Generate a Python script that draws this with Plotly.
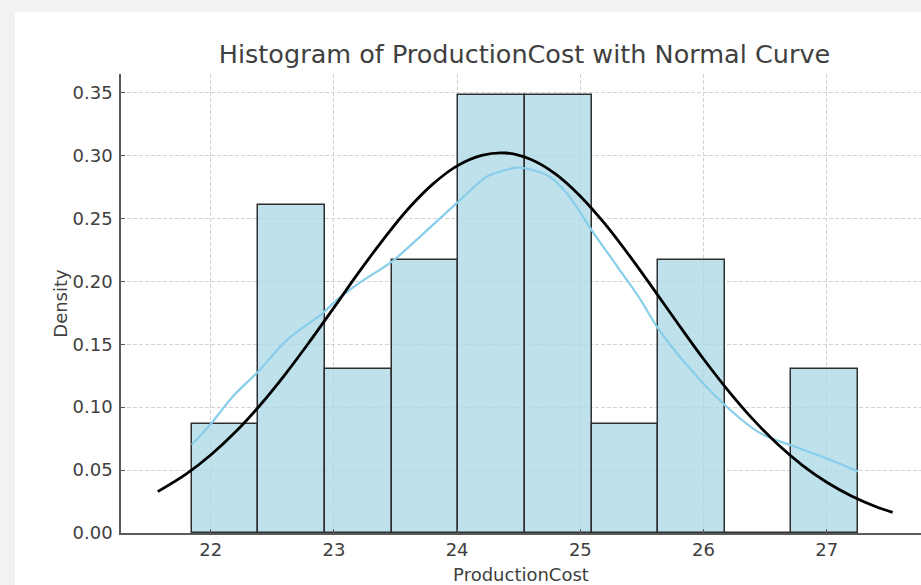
import plotly.graph_objects as go

# ---- data ----
bin_edges = [21.846, 22.387, 22.928, 23.468, 24.009, 24.550, 25.091, 25.632, 26.172, 26.713, 27.254]
densities = [0.087, 0.261, 0.130, 0.217, 0.348, 0.348, 0.087, 0.217, 0.0, 0.130]

kde_x = [21.846, 22.0, 22.18, 22.386, 22.62, 22.91, 23.02, 23.21, 23.47, 23.70, 24.01, 24.24,
         24.35, 24.48, 24.55, 24.75, 24.89, 25.09, 25.30, 25.48, 25.63, 25.84, 26.17, 26.46,
         26.72, 26.99, 27.254]
kde_y = [0.0701, 0.0866, 0.1085, 0.1284, 0.1535, 0.1747, 0.1850, 0.1990, 0.2157, 0.2356, 0.2634, 0.2832,
         0.2872, 0.2904, 0.2899, 0.2832, 0.2700, 0.2410, 0.2118, 0.1867, 0.1628, 0.1363, 0.1019, 0.0794,
         0.0693, 0.0596, 0.0489]

norm_x = [21.57, 21.8, 22.0, 22.2, 22.4, 22.6, 22.8, 23.0, 23.2, 23.4, 23.6, 23.8, 24.0, 24.2, 24.4,
          24.6, 24.8, 25.0, 25.2, 25.4, 25.6, 25.8, 26.0, 26.2, 26.4, 26.6, 26.8, 27.0, 27.2, 27.4, 27.535]
norm_y = [0.0329, 0.0468, 0.0620, 0.0802, 0.1015, 0.1255, 0.1517, 0.1791, 0.2069, 0.2332, 0.2573, 0.2771,
          0.2918, 0.3002, 0.3020, 0.2968, 0.2852, 0.2677, 0.2456, 0.2202, 0.1930, 0.1653, 0.1383, 0.1132,
          0.0905, 0.0707, 0.0540, 0.0403, 0.0294, 0.0209, 0.0164]

x_ticks = [22, 23, 24, 25, 26, 27]
y_ticks = [0.00, 0.05, 0.10, 0.15, 0.20, 0.25, 0.30, 0.35]

centers = [(a + b) / 2 for a, b in zip(bin_edges[:-1], bin_edges[1:])]
widths = [b - a for a, b in zip(bin_edges[:-1], bin_edges[1:])]

FONT = "DejaVu Sans"
TXT = "#404040"

fig = go.Figure()
fig.add_trace(go.Bar(
    x=centers, y=densities, width=widths,
    marker=dict(color="rgba(173,216,230,0.78)", line=dict(color="#2e2e2e", width=1.5)),
    showlegend=False, hoverinfo="skip",
))
fig.add_trace(go.Scatter(
    x=kde_x, y=kde_y, mode="lines",
    line=dict(color="#87ceeb", width=2.2, shape="spline"),
    showlegend=False,
))
fig.add_trace(go.Scatter(
    x=norm_x, y=norm_y, mode="lines",
    line=dict(color="black", width=2.8, shape="spline"),
    showlegend=False,
))

L, R, T, B = 121, 0, 74, 52
W, H = 921, 585
pw = W - L - R
ph = H - T - B

# white figure area with grey frame on top/left
fig.add_shape(type="rect", xref="paper", yref="paper", layer="below",
              x0=(15 - L) / pw, x1=1.05, y0=-B / ph - 0.05, y1=(H - B - 12) / ph,
              fillcolor="white", line=dict(width=0))

axis_common = dict(
    showgrid=True, gridcolor="#d2d2d2", griddash="4px,2px", gridwidth=1,
    showline=True, linecolor="#5a5a5a", linewidth=1.6,
    ticks="inside", ticklen=4, tickcolor="#5a5a5a", tickwidth=1,
    tickfont=dict(family=FONT, size=18, color=TXT),
    zeroline=False,
)

fig.update_layout(
    width=W, height=H,
    margin=dict(l=L, r=R, t=T, b=B, autoexpand=False),
    paper_bgcolor="#f2f2f2",
    plot_bgcolor="white",
    bargap=0,
    title=dict(text="Histogram of ProductionCost with Normal Curve",
               font=dict(family=FONT, size=25.5, color=TXT),
               x=(524.5 - L) / pw, xref="paper", xanchor="center",
               y=1 - 54 / H, yref="container", yanchor="middle"),
    xaxis=dict(range=[21.272, 27.765], tickvals=x_ticks, ticktext=[str(t) for t in x_ticks],
               title=dict(text="ProductionCost", font=dict(family=FONT, size=18, color=TXT), standoff=10),
               ticklabelstandoff=0,
               **axis_common),
    yaxis=dict(range=[0, 0.3648], tickvals=y_ticks, ticktext=[f"{v:.2f}" for v in y_ticks],
               title=dict(text="Density", font=dict(family=FONT, size=18, color=TXT), standoff=0),
               ticklabelstandoff=3,
               **axis_common),
    font=dict(family=FONT, color=TXT),
)

fig.write_html(
    "out.html",
    config={"displayModeBar": False},
    post_script="document.body.style.margin='0';document.body.style.padding='0';"
                "document.body.style.background='#f2f2f2';document.body.style.overflow='hidden';",
)
